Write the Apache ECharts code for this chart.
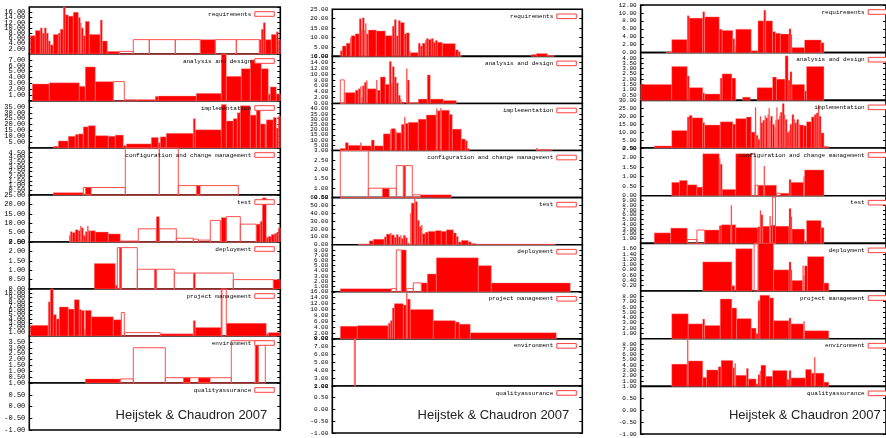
<!DOCTYPE html>
<html><head><meta charset="utf-8">
<script src="https://cdn.jsdelivr.net/npm/echarts@6/dist/echarts.min.js"></script>
<style>html,body{margin:0;padding:0;background:#fff}#c{width:886px;height:438px}</style>
</head><body><div id="c"></div>
<script>
// ---------- categories ----------
const activities = ['requirements','analysis and design','implementation','configuration and change management','test','deployment','project management','environment','qualityassurance'];
const creditText = 'Heijstek & Chaudron 2007';

// ---------- y-axis scales (tick labels) per column ----------
const c1_yMin = [0,0,0,0,0,0,0,0,-1];
const c1_yMax = [18,8,40,5,25,2.5,11,4,1];
const c1_yStep = [2,1,5,0.5,5,0.5,1,0.5,0.5];
const c2_yMin = [0,0,0,0.5,0,0,0,2,-1];
const c2_yMax = [25,16,45,3,60,9,16,8,1];
const c2_yStep = [5,2,5,0.5,10,1,2,1,0.5];
const c3_yMin = [0,0,0,0,0,0,0,0,-1];
const c3_yMax = [12,4.5,30,2.5,10,1.8,9,9,1];
const c3_yStep = [2,0.5,5,0.5,1,0.2,1,1,0.5];

// ---------- column 1 values: steps [x, value] (value holds until next x); boxes [x0, x1, value] (outlined) ----------
const c1_requirements_steps = [[1,7],[6,9],[11,10],[13,8],[15,10],[17,8],[19,5],[21,3.5],[24,7.5],[29,8],[31,9.5],[34,18],[36,15],[39,14.5],[44,16],[49,14],[51,12],[52,10],[54,7],[56,12.5],[60,7.5],[71,13],[73,5],[78,1],[90,0],[171,5.5],[186,0],[230,5.5],[232,9.5],[234,12],[236,5.5],[242,7.5],[247,8.5],[249,5.5],[251,0]];
const c1_requirements_boxes = [[90,104,1],[104,120,5.5],[120,146,5.5],[146,171,5.5],[186,207,5.5],[207,230,5.5]];
const c1_analysis_steps = [[3,2.9],[20,3.1],[50,2.5],[56,5.8],[66,3.3],[84,0],[107,0.25],[126,0.8],[129,0.85],[167,1.3],[192,8.5],[197,4.2],[212,5.5],[221,7],[232,5.5],[239,1.2],[241,2.4],[247,1.2],[251,0]];
const c1_analysis_boxes = [[84,95,3.3],[95,107,0.2]];
const c1_implementation_steps = [[24,1.5],[29,6],[39,10],[46,11.5],[49,12],[54,18],[59,19],[66,10.5],[79,10],[86,11],[94,2],[97,3.5],[122,9],[129,4.5],[131,9.5],[137,12.5],[164,25],[166,15.5],[192,37],[197,23],[204,25],[208,30],[211,36],[221,28],[227,33],[231,20.5],[236,19.5],[237,24],[244,26],[247,17],[249,27],[251,0]];
const c1_implementation_boxes = [];
const c1_config_steps = [[24,0.25],[54,0],[56,0.8],[62,0],[167,1],[171,0]];
const c1_config_boxes = [[54,96,0.8],[96,130,6],[130,149,6],[149,209,1]];
const c1_test_steps = [[40,3.5],[41,5.5],[43,5],[46,6.5],[49,6],[51,8.5],[52,7.5],[54,3.5],[56,5.5],[58,8.5],[59,6],[61,6],[66,5.3],[79,4.3],[91,0],[127,13.5],[130,0],[191,11.5],[192,13],[197,0],[227,9.5],[231,11],[233,23.5],[237,2.5],[239,3],[242,4],[245,4.5],[247,5],[249,7.5],[251,0]];
const c1_test_boxes = [[91,109,0.5],[109,127,7],[130,147,7],[147,164,2],[164,169,1.5],[169,181,1],[181,191,11.5],[197,211,13.5],[211,227,9.5]];
const c1_deployment_steps = [[65,1.36],[86,0.2],[88,0],[90,2.2],[92,0],[125,1.05],[127,0],[164,0.85],[166,0],[244,0.5],[251,0]];
const c1_deployment_boxes = [[88,92,2.2],[92,108,2.2],[108,127,1.05],[127,145,1.05],[145,204,0.85],[204,244,0.5]];
const c1_pm_steps = [[1,2.5],[19,8],[21,11.5],[24,5],[27,4],[30,6.8],[39,6.3],[45,8.5],[50,6.2],[52,6],[55,1.5],[56,6],[62,4.5],[84,3.8],[92,0],[131,0.5],[164,3.6],[166,2],[192,11.5],[193,0],[197,3],[237,0.5],[239,0.8],[251,0]];
const c1_pm_boxes = [[92,95,5.5],[95,131,0.8],[192,197,12]];
const c1_environment_steps = [[56,0.35],[91,0],[154,0.45],[161,0],[169,0.45],[181,0],[226,3.6],[229,0]];
const c1_environment_boxes = [[91,104,0.35],[104,136,3],[136,202,0.45],[202,226,3.6],[229,236,3.6]];
const c1_qa_steps = [];
const c1_qa_boxes = [];

// ---------- column 2 values ----------
const c2_requirements_steps = [[8,3],[10,5.5],[14,7],[18,10],[19,11],[23,12],[27,20],[29,14],[30,20.5],[32,14],[33,17.5],[34,12],[36,14],[44,13.5],[53,11],[60,16],[62,19.5],[64,11],[66,19],[68,18],[72,12],[74,12.5],[77,3],[78,2],[86,7],[88,5.5],[90,7],[93,8.5],[94,9.5],[96,9],[99,9.5],[101,7.5],[103,8.5],[105,7.5],[110,6.8],[123,3.5],[126,2.5],[128,0.5],[129,0],[199,1],[204,1.5],[215,0.5],[222,0]];
const c2_requirements_boxes = [];
const c2_analysis_steps = [[13,3.7],[23,4.5],[26,5],[28,5.8],[29,2],[30,6],[32,7.2],[34,7.8],[35,5],[44,8],[45,4.5],[48,9],[53,6.5],[57,14.3],[59,7],[60,12.5],[62,9],[64,7],[66,2.8],[68,1.5],[69,0.5],[72,0],[74,11.8],[75,8],[77,0.3],[86,1.5],[95,9.7],[98,1.5],[111,1],[124,0]];
const c2_analysis_boxes = [[8,12,8],[12,13,3.5]];
const c2_implementation_steps = [[8,2],[13,7.5],[16,5],[28,7.5],[29,4.5],[39,10],[42,4.5],[51,16],[58,20],[59,21],[63,19],[64,17],[69,25],[72,32],[73,26],[76,27],[86,30],[94,34],[104,40],[105,38],[108,40.5],[109,38.5],[117,34.5],[120,20.5],[129,11],[133,9.5],[135,2],[137,0],[204,2.5],[205,1],[220,0]];
const c2_implementation_boxes = [];
const c2_config_steps = [[50,1],[57,0],[71,2.2],[73,0],[88,0.65],[119,0]];
const c2_config_boxes = [[8,36,3.2],[36,64,1],[64,71,2.2],[73,80,2.2],[80,88,0.65]];
const c2_test_steps = [[26,1],[37,5],[41,7],[52,10],[54,13.5],[58,15],[59,12.5],[62,9.5],[64,13],[66,10],[68,12],[69,8],[71,12],[73,9],[75,2],[77,0.5],[78,40],[79,53],[82,60],[83,55],[85,31],[87,23],[89,25],[90,14],[93,16],[96,17],[103,18],[109,17],[114,19],[121,15],[124,10.5],[126,3.5],[129,5.5],[136,3.5],[139,1.5],[144,1],[223,0]];
const c2_test_boxes = [];
const c2_deployment_steps = [[8,0.6],[59,0],[69,8],[74,0],[89,1.7],[95,3.4],[104,6.5],[146,5],[159,1.7],[238,0]];
const c2_deployment_boxes = [[59,64,0.6],[64,69,8],[74,81,0.6],[81,89,1.7]];
const c2_pm_steps = [[8,4.3],[25,4.5],[56,5.3],[58,6.2],[60,10.5],[62,12],[71,11.5],[74,15.5],[75,13.5],[78,10],[101,6.2],[123,5.7],[127,5],[138,2.1],[224,0]];
const c2_pm_boxes = [];
const c2_environment_steps = [];
const c2_environment_boxes = [[22,23,9]];
const c2_qa_steps = [];
const c2_qa_boxes = [];

// ---------- column 3 values ----------
const c3_requirements_steps = [[26,0.2],[32,3.3],[48,9.3],[50,8.7],[64,10.3],[66,9],[81,5.9],[84,5.6],[95,3.5],[97,1.7],[98,5.9],[114,0.5],[121,8],[127,10.7],[129,8],[136,5.3],[139,4.9],[144,4.7],[153,6],[155,4.5],[156,1.3],[169,3.2],[186,2.5],[189,0]];
const c3_requirements_boxes = [];
const c3_analysis_steps = [[0,1.5],[32,3.2],[48,2.3],[50,1.2],[64,0.7],[66,0.6],[82,2.1],[84,2.5],[94,2.1],[98,0],[105,0.3],[113,0],[120,1.2],[136,2.2],[140,2],[149,4.2],[152,1.9],[154,2.7],[156,1.5],[169,0.9],[171,3.2],[189,0]];
const c3_analysis_boxes = [];
const c3_implementation_steps = [[14,1.3],[32,11],[48,19.5],[50,20.5],[53,19],[64,16],[66,14.5],[82,16.5],[95,15],[98,18.5],[109,19.5],[114,10],[118,25.5],[119,8],[121,5.5],[123,20],[124,16],[126,17.5],[128,20.5],[129,19],[131,21],[132,25],[133,17],[134,20],[136,15],[138,13],[139,17.5],[140,25.5],[141,18],[143,20],[144,22.5],[146,28],[148,21],[149,18],[151,10],[153,11],[154,15],[156,21],[158,18],[159,16],[161,18],[163,15],[164,14.5],[168,14],[171,16.5],[176,19.5],[179,21],[181,22],[183,27],[184,20],[186,9.5],[189,1],[194,0]];
const c3_implementation_boxes = [];
const c3_config_steps = [[32,0.7],[40,0.8],[48,0.57],[58,0.45],[64,2.2],[81,1.95],[82,1.65],[84,0.33],[98,2.2],[114,0],[121,0.55],[127,1.55],[128,0.55],[140,0],[144,0.13],[153,0.85],[155,0.7],[168,1],[169,1.35],[189,0]];
const c3_config_boxes = [[114,118,2.2],[118,121,0.55],[140,144,0.13]];
const c3_test_steps = [[14,2.2],[31,3.2],[48,0],[66,2.8],[81,3.7],[83,3.9],[93,8],[94,3.9],[98,3.3],[121,3.5],[123,6.9],[124,6],[126,3.6],[133,5.7],[134,3.8],[139,3.6],[153,7.3],[155,5.6],[156,3],[169,0.5],[171,4.8],[186,3.3],[189,0]];
const c3_test_boxes = [[48,58,0.8],[58,66,2.8],[136,139,9.7]];
const c3_deployment_steps = [[64,1.1],[94,0.2],[97,0],[98,1.6],[115,0],[121,1.8],[137,0.8],[153,1.1],[155,0.8],[156,0.4],[167,0.95],[168,0.6],[169,0.95],[172,1.3],[189,0.3],[194,0]];
const c3_deployment_boxes = [[117,121,1.8]];
const c3_pm_steps = [[32,4.7],[49,2.8],[64,3.7],[66,2.5],[82,7.5],[94,5.8],[99,3.8],[114,2],[119,1],[121,7.2],[123,8.2],[133,7.7],[137,3.4],[153,3.9],[155,2.8],[168,3.3],[169,1.5],[194,0]];
const c3_pm_boxes = [];
const c3_environment_steps = [[32,4.2],[48,9],[49,4.8],[64,1.7],[68,3.1],[80,3.7],[83,4.9],[95,3.5],[97,4.3],[98,2.1],[109,3.4],[111,1.4],[119,0.5],[121,2.2],[123,2.9],[124,4],[129,1.9],[136,3],[151,1.3],[153,3],[155,1.6],[170,3.2],[176,2.5],[179,5.5],[180,2.5],[189,0.8],[194,0]];
const c3_environment_boxes = [];
const c3_qa_steps = [];
const c3_qa_boxes = [];

// ---------- assembly ----------
const c1_steps = [c1_requirements_steps,c1_analysis_steps,c1_implementation_steps,c1_config_steps,c1_test_steps,c1_deployment_steps,c1_pm_steps,c1_environment_steps,c1_qa_steps];
const c1_boxes = [c1_requirements_boxes,c1_analysis_boxes,c1_implementation_boxes,c1_config_boxes,c1_test_boxes,c1_deployment_boxes,c1_pm_boxes,c1_environment_boxes,c1_qa_boxes];
const c2_steps = [c2_requirements_steps,c2_analysis_steps,c2_implementation_steps,c2_config_steps,c2_test_steps,c2_deployment_steps,c2_pm_steps,c2_environment_steps,c2_qa_steps];
const c2_boxes = [c2_requirements_boxes,c2_analysis_boxes,c2_implementation_boxes,c2_config_boxes,c2_test_boxes,c2_deployment_boxes,c2_pm_boxes,c2_environment_boxes,c2_qa_boxes];
const c3_steps = [c3_requirements_steps,c3_analysis_steps,c3_implementation_steps,c3_config_steps,c3_test_steps,c3_deployment_steps,c3_pm_steps,c3_environment_steps,c3_qa_steps];
const c3_boxes = [c3_requirements_boxes,c3_analysis_boxes,c3_implementation_boxes,c3_config_boxes,c3_test_boxes,c3_deployment_boxes,c3_pm_boxes,c3_environment_boxes,c3_qa_boxes];

const layout = [
  {left:29.3, width:251, top:7, h:47, font:7, steps:c1_steps, boxes:c1_boxes, yMin:c1_yMin, yMax:c1_yMax, yStep:c1_yStep},
  {left:332.3, width:250, top:9.3, h:47.08, font:6, steps:c2_steps, boxes:c2_boxes, yMin:c2_yMin, yMax:c2_yMax, yStep:c2_yStep},
  {left:640.7, width:253, top:5, h:47.67, font:6, steps:c3_steps, boxes:c3_boxes, yMin:c3_yMin, yMax:c3_yMax, yStep:c3_yStep}
];

function stepsToRects(s){
  const out = [];
  for (let i = 0; i < s.length - 1; i++) if (s[i][1] !== 0) out.push([s[i][0], s[i+1][0], s[i][1]]);
  return out;
}
function clipRect(params, api){
  const cs = params.coordSys;
  const a = api.coord([api.value(0), api.value(2)]);
  const b = api.coord([api.value(1), 0]);
  const x0 = Math.max(Math.min(a[0], b[0]), cs.x), x1 = Math.min(Math.max(a[0], b[0]), cs.x + cs.width);
  const y0 = Math.max(Math.min(a[1], b[1]), cs.y), y1 = Math.min(Math.max(a[1], b[1]), cs.y + cs.height);
  if (x1 <= x0 || y1 <= y0) return null;
  return {x:x0, y:y0, width:x1 - x0, height:y1 - y0};
}
function renderFill(params, api){
  const r = clipRect(params, api);
  if (!r) return null;
  return {type:'rect', shape:r, style:{fill:'#ff0000', stroke:'#ff9a9a', lineWidth:0.4}};
}
function renderBox(params, api){
  const r = clipRect(params, api);
  if (!r) return null;
  return {type:'rect', shape:r, style:{fill:'none', stroke:'#ff5050', lineWidth:1}};
}

const grid = [], xAxis = [], yAxis = [], series = [], graphic = [];
const mono = "'Liberation Mono','DejaVu Sans Mono',monospace";
layout.forEach((c) => {
  activities.forEach((name, pi) => {
    const gi = grid.length;
    const top = c.top + pi * c.h;
    grid.push({left:c.left, top:top, width:c.width, height:c.h, show:true, borderColor:'#000', borderWidth:1.6, backgroundColor:'#fff'});
    xAxis.push({gridIndex:gi, type:'value', min:0, max:c.width, show:false});
    const base = {gridIndex:gi, type:'value', min:c.yMin[pi], max:c.yMax[pi], interval:c.yStep[pi],
      axisLine:{show:false}, splitLine:{show:false},
      axisTick:{show:true, inside:true, length:3, lineStyle:{color:'#000', width:1}}};
    yAxis.push(Object.assign({}, base, {position:'left',
      axisLabel:{show:true, margin:4, color:'#000', fontFamily:mono, fontSize:c.font, formatter:v => v.toFixed(2)}}));
    yAxis.push(Object.assign({}, base, {position:'right', axisLabel:{show:false}}));
    series.push({type:'custom', xAxisIndex:gi, yAxisIndex:2*gi, renderItem:renderFill,
      encode:{x:[0,1], y:2}, data:stepsToRects(c.steps[pi]), silent:true, z:3});
    if (c.boxes[pi].length) series.push({type:'custom', xAxisIndex:gi, yAxisIndex:2*gi, renderItem:renderBox,
      encode:{x:[0,1], y:2}, data:c.boxes[pi], silent:true, z:4});
    const right = c.left + c.width;
    const ly = top + 7;
    graphic.push({type:'text', x:right - 29, y:ly, z:100, silent:true,
      style:{text:name, fill:'#000', font:'6px ' + mono, textAlign:'right', textVerticalAlign:'middle'}});
    graphic.push({type:'rect', z:100, silent:true, shape:{x:right - 25.5, y:ly - 2.3, width:19.5, height:4.6},
      style:{fill:'#fff', stroke:'#ff4040', lineWidth:1}});
  });
  graphic.push({type:'text', x:c.left + c.width - 13, y:415, z:100, silent:true,
    style:{text:creditText, fill:'#222', font:"13px 'Liberation Sans','DejaVu Sans',sans-serif", textAlign:'right', textVerticalAlign:'middle'}});
});

const chart = echarts.init(document.getElementById('c'), null, {renderer:'canvas'});
chart.setOption({animation:false, backgroundColor:'#fff', grid, xAxis, yAxis, series, graphic});
</script></body></html>
